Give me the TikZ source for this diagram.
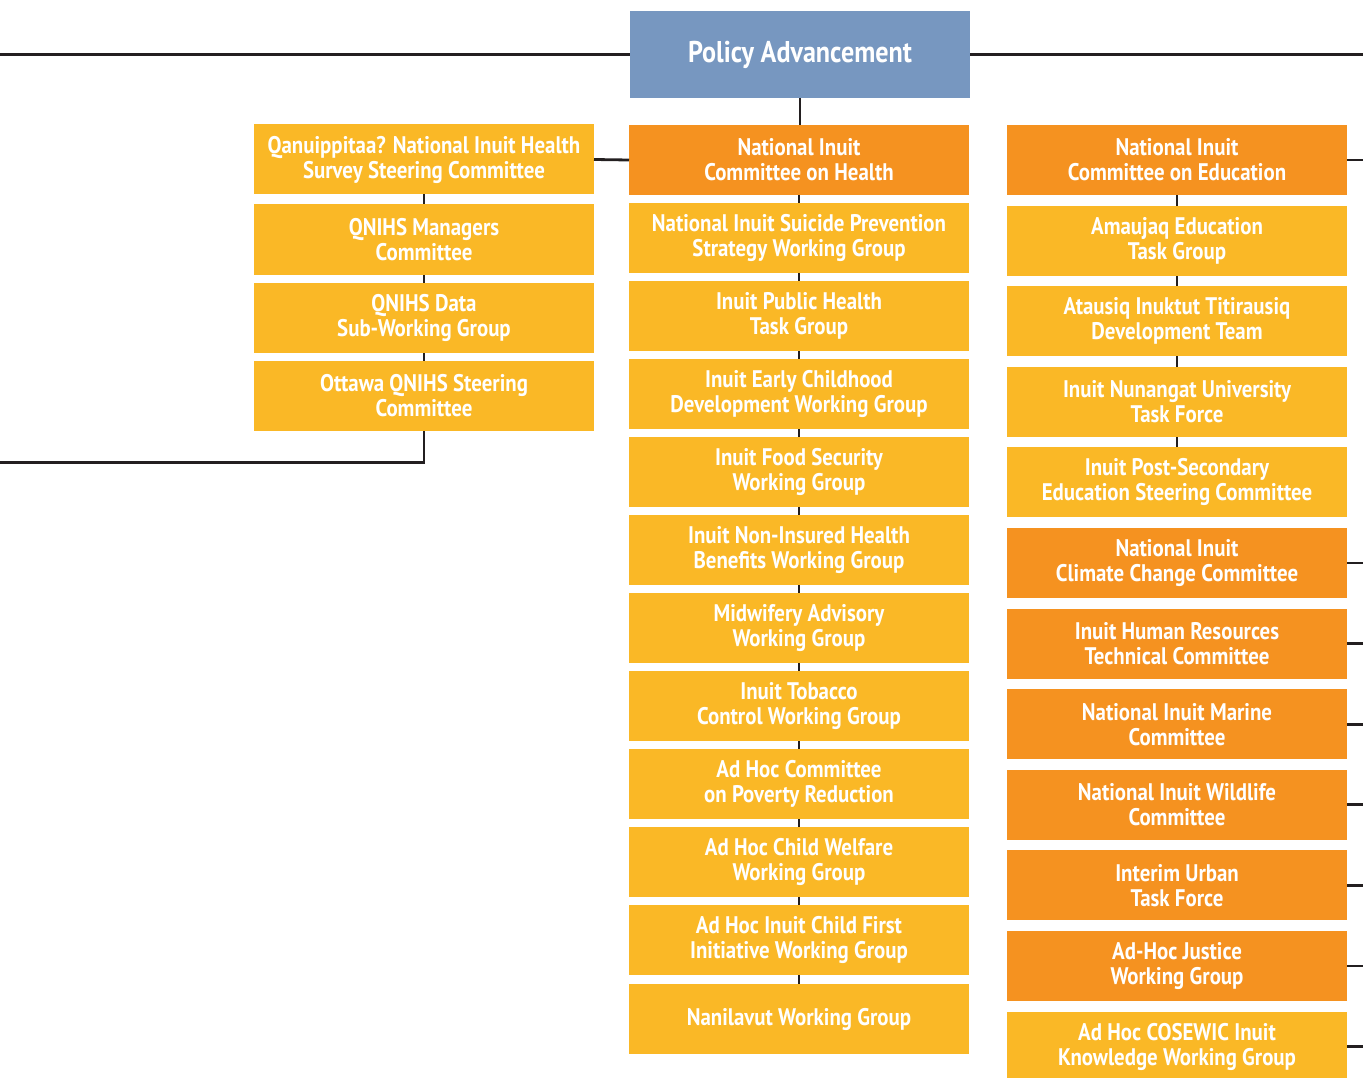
\documentclass[tikz,border=0pt]{standalone}
\usepackage{fontspec}
\newfontfamily\orgfont{PT Sans}[FakeStretch=0.87]
\usetikzlibrary{positioning,calc,backgrounds}

\definecolor{polblue}{RGB}{119,151,192}
\definecolor{comorange}{RGB}{245,146,32}
\definecolor{grpyellow}{RGB}{250,184,38}
\definecolor{linkgray}{RGB}{35,31,32}

\begin{document}
\begin{tikzpicture}[x=1pt, y=-1pt, node distance=8pt,
    box/.style={draw=none, text=white, align=center,
      minimum width=340pt, minimum height=70pt, inner sep=0pt, outer sep=0pt,
      font=\orgfont\bfseries\fontsize{24}{25}\selectfont},
    com/.style={box, fill=comorange},
    grp/.style={box, fill=grpyellow},
    link/.style={draw=linkgray, line width=2.8pt}
  ]
  \useasboundingbox (0,0) rectangle (1363,1078);

  \node (policy) [box, fill=polblue, minimum height=87pt,
    font=\orgfont\bfseries\fontsize{30}{32}\selectfont] at (800,54.5) {Policy Advancement};

  % health column
  \node (hlth-1) [com] at (799,160) {National Inuit\\Committee on Health};
  \node (hlth-2) [grp, below=of hlth-1] {National Inuit Suicide Prevention\\Strategy Working Group};
  \node (hlth-3) [grp, below=of hlth-2] {Inuit Public Health\\Task Group};
  \node (hlth-4) [grp, below=of hlth-3] {Inuit Early Childhood\\Development Working Group};
  \node (hlth-5) [grp, below=of hlth-4] {Inuit Food Security\\Working Group};
  \node (hlth-6) [grp, below=of hlth-5] {Inuit Non-Insured Health\\Benefits Working Group};
  \node (hlth-7) [grp, below=of hlth-6] {Midwifery Advisory\\Working Group};
  \node (hlth-8) [grp, below=of hlth-7] {Inuit Tobacco\\Control Working Group};
  \node (hlth-9) [grp, below=of hlth-8] {Ad Hoc Committee\\on Poverty Reduction};
  \node (hlth-10) [grp, below=of hlth-9] {Ad Hoc Child Welfare\\Working Group};
  \node (hlth-11) [grp, below=of hlth-10] {Ad Hoc Inuit Child First\\Initiative Working Group};
  \node (hlth-12) [grp, below=9pt of hlth-11] {Nanilavut Working Group};

  % survey column
  \node (surv-1) [grp] at (424,159.5) {Qanuippitaa? National Inuit Health\\Survey Steering Committee};
  \node (surv-2) [grp, below=10pt of surv-1] {QNIHS Managers\\Committee};
  \node (surv-3) [grp, below=of surv-2] {QNIHS Data\\Sub-Working Group};
  \node (surv-4) [grp, below=of surv-3] {Ottawa QNIHS Steering\\Committee};

  % education column
  \begin{scope}[node distance=10.6pt]
    \node (educ-1) [com] at (1177,160) {National Inuit\\Committee on Education};
    \node (educ-2) [grp, below=of educ-1] {Amaujaq Education\\Task Group};
    \node (educ-3) [grp, below=of educ-2] {Atausiq Inuktut Titirausiq\\Development Team};
    \node (educ-4) [grp, below=of educ-3] {Inuit Nunangat University\\Task Force};
    \node (educ-5) [grp, below=of educ-4] {Inuit Post-Secondary\\Education Steering Committee};
    \node (educ-6) [com, below=of educ-5] {National Inuit\\Climate Change Committee};
    \node (educ-7) [com, below=of educ-6] {Inuit Human Resources\\Technical Committee};
    \node (educ-8) [com, below=of educ-7] {National Inuit Marine\\Committee};
    \node (educ-9) [com, below=of educ-8] {National Inuit Wildlife\\Committee};
    \node (educ-10) [com, below=of educ-9] {Interim Urban\\Task Force};
    \node (educ-11) [com, below=of educ-10] {Ad-Hoc Justice\\Working Group};
    \node (educ-12) [grp, below=of educ-11] {Ad Hoc COSEWIC Inuit\\Knowledge Working Group};
  \end{scope}

  \coordinate (west-top) at (0,54.5);
  \coordinate (east-top) at (1363,54.5);
  \coordinate (surv-bend) at ($(surv-4.south) + (0,32)$);
  \coordinate (west-low) at (surv-bend -| west-top);

  \begin{scope}[on background layer]
    \draw[link] (hlth-1.center) -- (hlth-12.center);
    \draw[link] (surv-1.center) -- (surv-4.center) -- (surv-bend) -- (west-low);
    \draw[link] (educ-1.center) -- (educ-5.center);
  \end{scope}

  \draw[link] (west-top) -- (policy.west);
  \draw[link] (policy.east) -- (east-top);
  \draw[link] (policy.south) -- (policy.south |- hlth-1.north);
  \draw[link] (hlth-1.west) -- (surv-1.east);

  \draw[link] (educ-1.east) -- (educ-1.east -| east-top);
  \draw[link] (educ-6.east) -- (educ-6.east -| east-top);
  \draw[link] (educ-7.east) -- (educ-7.east -| east-top);
  \draw[link] (educ-8.east) -- (educ-8.east -| east-top);
  \draw[link] (educ-9.east) -- (educ-9.east -| east-top);
  \draw[link] (educ-10.east) -- (educ-10.east -| east-top);
  \draw[link] (educ-11.east) -- (educ-11.east -| east-top);
  \draw[link] (educ-12.east) -- (educ-12.east -| east-top);
\end{tikzpicture}
\end{document}
